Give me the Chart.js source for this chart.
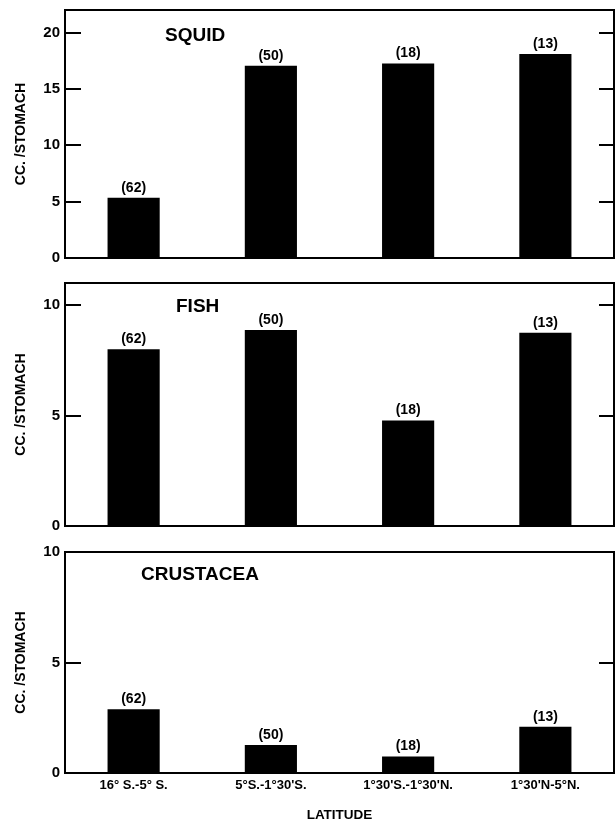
<!DOCTYPE html>
<html><head><meta charset="utf-8">
<script src="https://cdn.jsdelivr.net/npm/chart.js@4"></script>
<style>
html,body{margin:0;padding:0;background:#fff;}
canvas{position:absolute;left:0;}
</style>
</head><body>
<canvas id="c1" width="616" height="266" style="top:0px"></canvas>
<canvas id="c2" width="616" height="272" style="top:262px"></canvas>
<canvas id="c3" width="616" height="293" style="top:530px"></canvas>
<script>
const latitudeLabels = ["16° S.-5° S.", "5°S.-1°30'S.", "1°30'S.-1°30'N.", "1°30'N-5°N."];
const sampleCounts = [62, 50, 18, 13];
const squidValues = [5.35, 17.05, 17.25, 18.1];
const fishValues = [8.0, 8.87, 4.78, 8.75];
const crustaceaValues = [2.89, 1.27, 0.75, 2.09];
const squidTicks = [0, 5, 10, 15, 20];
const fishTicks = [0, 5, 10];
const crustaceaTicks = [0, 5, 10];
const yTitle = "CC. /STOMACH";
const xTitle = "LATITUDE";

const FONT = '"Liberation Sans", Arial, sans-serif';

const panelPlugin = {
  id: 'panel',
  afterDatasetsDraw(chart, args, opts) {
    const {ctx, chartArea: a} = chart;
    const y = chart.scales.y;
    ctx.save();
    ctx.strokeStyle = '#000';
    ctx.lineWidth = 2;
    ctx.strokeRect(a.left, a.top, a.right - a.left, a.bottom - a.top);
    ctx.lineWidth = 1.8;
    y.ticks.forEach(t => {
      const py = Math.round(y.getPixelForValue(t.value));
      ctx.beginPath();
      ctx.moveTo(a.left, py); ctx.lineTo(a.left + 16, py);
      ctx.moveTo(a.right, py); ctx.lineTo(a.right - 15, py);
      ctx.stroke();
    });
    ctx.fillStyle = '#000';
    ctx.font = 'bold 14px ' + FONT;
    ctx.textAlign = 'center';
    ctx.textBaseline = 'bottom';
    chart.getDatasetMeta(0).data.forEach((bar, i) => {
      ctx.fillText('(' + opts.counts[i] + ')', bar.x, bar.y - 3);
    });
    ctx.font = 'bold 19px ' + FONT;
    ctx.textAlign = 'left';
    ctx.textBaseline = 'middle';
    ctx.fillText(opts.title, opts.titleX, a.top + opts.titleDy);
    ctx.restore();
  }
};

function makePanel(id, values, ticks, max, title, titleX, titleDy, showX, padTop) {
  return new Chart(document.getElementById(id), {
    type: 'bar',
    data: {
      labels: latitudeLabels,
      datasets: [{ data: values, backgroundColor: '#000', borderWidth: 0,
        categoryPercentage: 1.0, barPercentage: 0.38 }]
    },
    options: {
      responsive: false,
      animation: false,
      layout: { padding: { left: 0, right: 2, top: padTop, bottom: showX ? 0 : 5 } },
      plugins: {
        legend: { display: false },
        tooltip: { enabled: false },
        panel: { counts: sampleCounts, title: title, titleX: titleX, titleDy: titleDy }
      },
      scales: {
        x: {
          display: showX,
          grid: { display: false, drawTicks: false },
          border: { display: false },
          ticks: { color: '#000', font: { family: FONT, size: 13, weight: 'bold' },
            padding: 5, maxRotation: 0, autoSkip: false },
          title: { display: showX, text: xTitle, color: '#000',
            font: { family: FONT, size: 13.5, weight: 'bold', lineHeight: 1 },
            padding: { top: 0, bottom: 0.5 } },
          afterFit: s => { s.height = showX ? 50 : 0; }
        },
        y: {
          min: 0, max: max,
          grid: { display: false, drawTicks: false },
          border: { display: false },
          afterBuildTicks: s => { s.ticks = ticks.map(v => ({ value: v })); },
          ticks: { color: '#000', font: { family: FONT, size: 15, weight: 'bold', lineHeight: 0.4 }, padding: 5 },
          title: { display: true, text: yTitle, color: '#000',
            font: { family: FONT, size: 14, weight: 'bold', lineHeight: 1 },
            padding: { top: 14, bottom: 0 } },
          afterFit: s => { s.width = 65; }
        }
      }
    },
    plugins: [panelPlugin]
  });
}

makePanel('c1', squidValues, squidTicks, 22, 'SQUID', 165, 25.5, false, 10);
makePanel('c2', fishValues, fishTicks, 11, 'FISH', 176, 23.5, false, 21);
makePanel('c3', crustaceaValues, crustaceaTicks, 10, 'CRUSTACEA', 141, 22.5, true, 22);
</script>
</body></html>
